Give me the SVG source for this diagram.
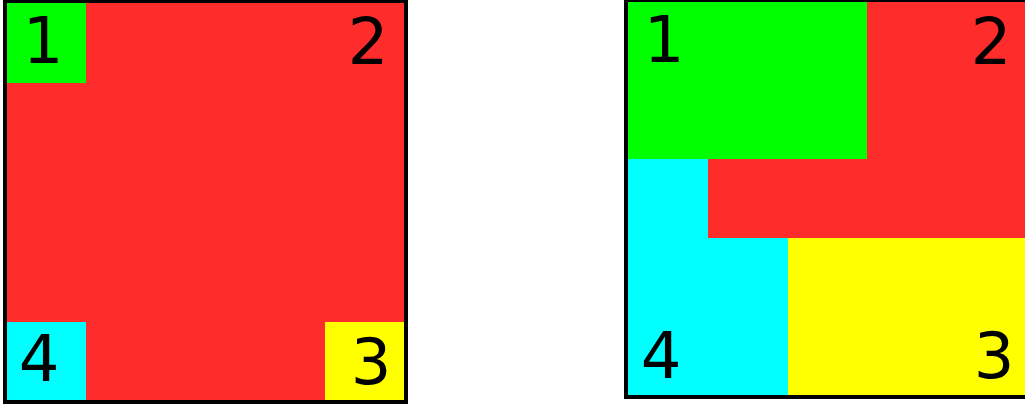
<svg xmlns="http://www.w3.org/2000/svg" width="1025" height="405" viewBox="0 0 1025 405">
  <style>
    .lbl { font-family: "DejaVu Sans", sans-serif; font-size: 64px; fill: #000; text-anchor: middle; }
    .frame { fill: none; stroke: #000; stroke-width: 4; }
  </style>
  <rect width="1025" height="405" fill="#fff"/>
  <g id="left-box">
    <rect x="7" y="3" width="397" height="397" fill="#ff2c2c"/>
    <rect id="l1" x="7" y="3" width="79" height="80" fill="#00ff00"/>
    <rect id="l4" x="7" y="322" width="79" height="78" fill="#00ffff"/>
    <rect id="l3" x="325" y="322" width="79" height="78" fill="#ffff00"/>
    <rect class="frame" x="5" y="1" width="401" height="401"/>
    <text class="lbl" x="43" y="63">1</text>
    <text class="lbl" x="368" y="64">2</text>
    <text class="lbl" x="39" y="381">4</text>
    <text class="lbl" x="371" y="384">3</text>
  </g>
  <g id="right-box">
    <rect x="628" y="2" width="400" height="393" fill="#ff2c2c"/>
    <rect id="r1" x="628" y="2" width="239" height="157" fill="#00ff00"/>
    <path id="r4" d="M628 159 H708 V238 H788 V395 H628 Z" fill="#00ffff"/>
    <rect id="r3" x="788" y="238" width="240" height="157" fill="#ffff00"/>
    <path class="frame" d="M1030 0 H626 V397 H1030"/>
    <text class="lbl" x="664" y="62">1</text>
    <text class="lbl" x="991" y="64">2</text>
    <text class="lbl" x="661" y="378">4</text>
    <text class="lbl" x="994" y="378">3</text>
  </g>
  <g id="connectors"></g>
</svg>
